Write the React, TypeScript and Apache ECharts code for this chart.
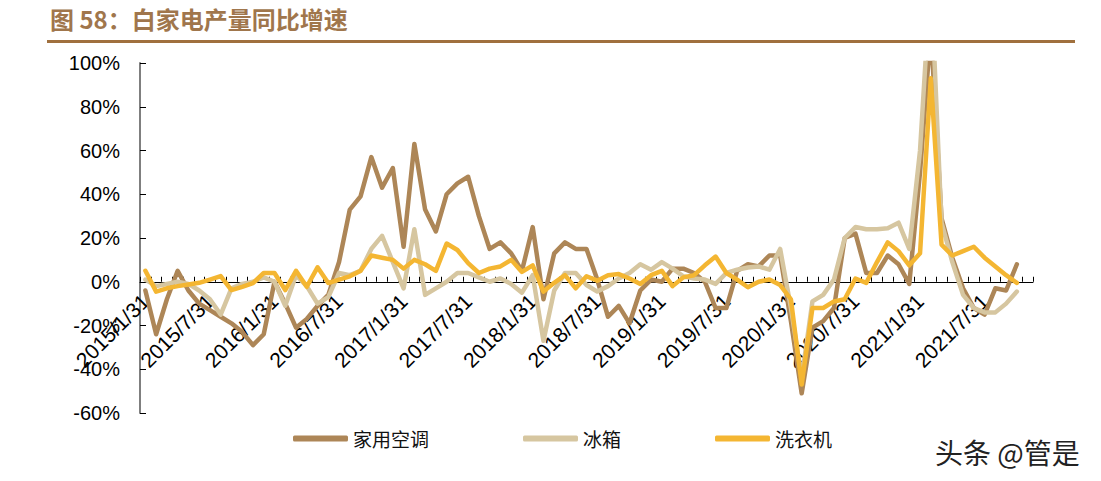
import React, { useEffect, useRef } from 'react';
import * as echarts from 'echarts';

const categories = [
  '2015/1/31','2015/2/28','2015/3/31','2015/4/30','2015/5/31','2015/6/30','2015/7/31','2015/8/31','2015/9/30','2015/10/31','2015/11/30','2015/12/31',
  '2016/1/31','2016/2/29','2016/3/31','2016/4/30','2016/5/31','2016/6/30','2016/7/31','2016/8/31','2016/9/30','2016/10/31','2016/11/30','2016/12/31',
  '2017/1/31','2017/2/28','2017/3/31','2017/4/30','2017/5/31','2017/6/30','2017/7/31','2017/8/31','2017/9/30','2017/10/31','2017/11/30','2017/12/31',
  '2018/1/31','2018/2/28','2018/3/31','2018/4/30','2018/5/31','2018/6/30','2018/7/31','2018/8/31','2018/9/30','2018/10/31','2018/11/30','2018/12/31',
  '2019/1/31','2019/2/28','2019/3/31','2019/4/30','2019/5/31','2019/6/30','2019/7/31','2019/8/31','2019/9/30','2019/10/31','2019/11/30','2019/12/31',
  '2020/1/31','2020/2/29','2020/3/31','2020/4/30','2020/5/31','2020/6/30','2020/7/31','2020/8/31','2020/9/30','2020/10/31','2020/11/30','2020/12/31',
  '2021/1/31','2021/2/28','2021/3/31','2021/4/30','2021/5/31','2021/6/30','2021/7/31','2021/8/31','2021/9/30','2021/10/31','2021/11/30',
];

// 家用空调 (%)
const airConditioner = [
  -4, -24, -8, 5, -4, -10, -13, -16, -19, -23, -29, -24,
  0, -10, -21, -17, -11, -6, 9, 33, 39, 57, 43, 52,
  16, 63, 33, 23, 40, 45, 48, 30, 15, 18, 13, 5,
  25, -8, 13, 18, 15, 15, 1, -16, -11, -19, -4, 1,
  0, 6, 6, 4, 0, -12, -12, 5, 8, 7, 12, 12,
  -18, -51, -21, -18, -12, 20, 22, 4, 4, 12, 8, -1,
  50, 115, 29, 11, -3, -12, -15, -3, -4, 8,
];

// 冰箱 (%)
const fridge = [
  1, -2, -1, 0, -1, -4, -8, -15, -3, -1, 0, 2,
  0, -11, 3, -2, -10, -7, 4, 3, 5, 15, 21, 9,
  -3, 24, -6, -3, 0, 4, 4, 2, 0, 1.5, -1, -5,
  3, -27, -4, 4, 4, -1.5, -4.5, -2, 1.5, 4, 8, 5.5,
  9, 6, 2.5, 1.5, 1, -1, 4, 5.5, 6.5, 7, 5.5, 15,
  -12, -44, -9, -6, 1, 20, 25, 24, 24, 24.5, 27, 15,
  60, 140, 27, 9, -6, -12, -14, -14, -10, -4.5,
];

// 洗衣机 (%)
const washer = [
  5, -4.5, -3, -2, -1.3, -0.5, 1, 2.6, -3.8, -2.3, -0.6, 4,
  4, -3.8, 5, -2.3, 6.6, -0.6, 1, 2.5, 5, 12, 11, 10,
  6, 10, 8, 5, 17.5, 14.5, 8.5, 4, 6, 7, 10, 4.5,
  7.5, -4.5, -0.5, 3, -3, 2.5, 0.5, 3, 3.5, 1.5, -1, 3,
  5, -2, 2, 3, 7.5, 11.5, 4, 1, -2.5, 0, 1, -1.5,
  -8, -47, -12, -12, -9, -8, 1.5, -0.5, 9, 18, 14, 7.5,
  13, 93, 17, 12, 14, 16, 11, 7, 3, -0.5,
];

const seriesNames = ['家用空调', '冰箱', '洗衣机'];
const seriesColors = ['#AD8657', '#D6C6A0', '#F4B632'];
const titleText = '图 58：白家电产量同比增速';
const watermarkText = '头条 @管是';

const Y_MIN = -60;
const Y_MAX = 100;
const GRID_TOP = 63;
const GRID_BOTTOM = 68;
const CHART_H = 481;

export default function App() {
  const ref = useRef<HTMLDivElement>(null);

  useEffect(() => {
    if (!ref.current) return;
    const chart = echarts.init(ref.current, undefined, { renderer: 'svg' });
    const dataSets = [airConditioner, fridge, washer];
    const plotH = CHART_H - GRID_TOP - GRID_BOTTOM;
    // move the category axis (line, ticks, labels) up to the 0% level
    const zeroOffset = -plotH * (0 - Y_MIN) / (Y_MAX - Y_MIN);
    chart.setOption({
      animation: false,
      backgroundColor: '#ffffff',
      textStyle: { fontFamily: 'Liberation Sans, Arial, sans-serif' },
      graphic: [
        {
          type: 'text',
          left: 50,
          top: 6,
          style: {
            text: titleText,
            fill: '#A0764C',
            font: 'bold 24px "Noto Sans CJK SC", sans-serif',
          },
        },
        {
          type: 'rect',
          shape: { x: 47, y: 40, width: 1028, height: 3 },
          style: { fill: '#A0703E' },
        },
        {
          type: 'text',
          left: 935,
          top: 438,
          style: {
            text: watermarkText,
            fill: '#222222',
            font: '28px "Noto Sans CJK SC", sans-serif',
          },
        },
      ],
      legend: {
        left: 288,
        top: 424,
        icon: 'roundRect',
        itemWidth: 55,
        itemHeight: 6,
        itemGap: 94,
        textStyle: {
          fontFamily: '"Noto Sans CJK SC", sans-serif',
          fontSize: 19,
          color: '#111111',
        },
        data: seriesNames,
      },
      grid: {
        left: 140,
        right: 68,
        top: GRID_TOP,
        bottom: GRID_BOTTOM,
        containLabel: false,
        outerBoundsMode: 'none',
      },
      xAxis: {
        type: 'category',
        data: categories,
        boundaryGap: true,
        offset: zeroOffset,
        axisLine: { show: true, onZero: false, lineStyle: { color: '#000000', width: 1 } },
        axisTick: { show: true, inside: true, length: 5, interval: 0, lineStyle: { color: '#000000' } },
        axisLabel: {
          interval: 5,
          rotate: 45,
          margin: 16,
          fontSize: 21,
          color: '#000000',
          fontFamily: 'Liberation Sans, Arial, sans-serif',
        },
        splitLine: { show: false },
      },
      yAxis: {
        type: 'value',
        min: Y_MIN,
        max: Y_MAX,
        interval: 20,
        axisLine: { show: true, lineStyle: { color: '#7f7f7f', width: 2 } },
        axisTick: { show: true, inside: true, length: 6, lineStyle: { color: '#000000' } },
        axisLabel: {
          formatter: '{value}%',
          fontSize: 20,
          margin: 20,
          color: '#000000',
          fontFamily: 'Liberation Sans, Arial, sans-serif',
        },
        splitLine: { show: false },
      },
      series: seriesNames.map((name, i) => ({
        name,
        type: 'line',
        data: dataSets[i],
        showSymbol: false,
        symbol: 'none',
        clip: true,
        connectNulls: true,
        lineStyle: { color: seriesColors[i], width: 4.5, join: 'round', cap: 'round' },
        itemStyle: { color: seriesColors[i] },
        z: 2 + i,
      })),
    });
    return () => chart.dispose();
  }, []);

  return (
    <div
      ref={ref}
      style={{ position: 'absolute', left: 0, top: 0, width: 1101, height: 481 }}
    />
  );
}
